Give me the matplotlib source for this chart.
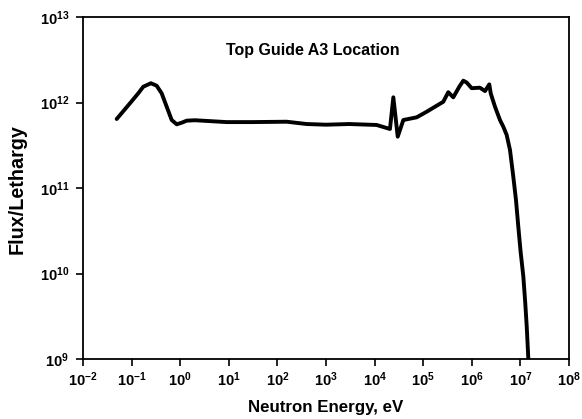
import matplotlib
matplotlib.use("Agg")
import matplotlib.pyplot as plt
from matplotlib.ticker import FixedLocator, FixedFormatter, NullLocator

plt.rcParams['font.family'] = ['Liberation Sans', 'DejaVu Sans']
plt.rcParams['font.weight'] = 'bold'
plt.rcParams['mathtext.fontset'] = 'custom'
plt.rcParams['mathtext.rm'] = 'Liberation Sans:bold'
plt.rcParams['mathtext.bf'] = 'Liberation Sans:bold'
plt.rcParams['mathtext.it'] = 'Liberation Sans:bold'

# Data
energy_eV = [0.0493, 0.0927, 0.137, 0.174, 0.25, 0.328, 0.416, 0.527, 0.668, 0.848,
             1.07, 1.36, 2.0, 9.06, 30, 155, 401, 1.0e3, 3.0e3,
             1.1e4, 2.07e4, 2.43e4, 2.99e4, 3.9e4, 7.35e4, 1.18e5, 1.9e5,
             2.59e5, 3.28e5, 4.16e5, 5.53e5, 6.69e5, 7.86e5, 9.95e5, 1.47e6,
             1.87e6, 2.29e6, 2.45e6, 3.0e6, 3.8e6, 4.45e6, 5.22e6, 6.11e6, 7.14e6,
             8.11e6, 9.06e6, 1.01e7, 1.15e7, 1.26e7, 1.35e7, 1.47e7]
flux_per_lethargy = [6.41e11, 9.8e11, 1.28e12, 1.53e12, 1.68e12, 1.57e12, 1.28e12,
                     8.93e11, 6.24e11, 5.56e11, 5.8e11, 6.13e11, 6.2e11, 5.9e11,
                     5.9e11, 5.96e11, 5.6e11, 5.5e11, 5.6e11,
                     5.46e11, 4.9e11, 1.15e12, 3.98e11,
                     6.24e11, 6.71e11, 7.8e11, 9.18e11, 1.02e12, 1.32e12, 1.15e12,
                     1.53e12, 1.80e12, 1.71e12, 1.47e12, 1.49e12, 1.36e12, 1.63e12,
                     1.28e12, 8.93e11, 6.24e11, 5.21e11, 4.17e11, 2.78e11, 1.36e11,
                     7.24e10, 3.52e10, 1.8e10, 9.18e9, 4.48e9, 2.39e9, 9.0e8]

x_exponents = [-2, -1, 0, 1, 2, 3, 4, 5, 6, 7, 8]
y_exponents = [9, 10, 11, 12, 13]
title_text = "Top Guide A3 Location"
x_label = "Neutron Energy, eV"
y_label = "Flux/Lethargy"

fig = plt.figure(figsize=(5.82, 4.19), dpi=100)
ax = fig.add_axes([83/582, 1 - 359/419, (569-83)/582, (359-17)/419])
ax.plot(energy_eV, flux_per_lethargy, color='black', lw=2.8, solid_joinstyle='round',
        solid_capstyle='round')
ax.set_xscale('log')
ax.set_yscale('log')
ax.set_xlim(1e-2, 1e8)
ax.set_ylim(1e9, 1e13)

ax.xaxis.set_major_locator(FixedLocator([10.0**e for e in x_exponents]))
ax.xaxis.set_major_formatter(FixedFormatter([r'$\mathbf{10^{%d}}$' % e for e in x_exponents]))
ax.yaxis.set_major_locator(FixedLocator([10.0**e for e in y_exponents]))
ax.yaxis.set_major_formatter(FixedFormatter([r'$\mathbf{10^{%d}}$' % e for e in y_exponents]))
ax.xaxis.set_minor_locator(NullLocator())
ax.yaxis.set_minor_locator(NullLocator())
ax.tick_params(axis='both', which='major', direction='out', length=5, width=1.2,
               labelsize=10.5)
ax.tick_params(axis='x', pad=3)
ax.tick_params(axis='y', pad=5)
for s in ax.spines.values():
    s.set_linewidth(1.3)

fig.text(326/582, 1 - 412/419, x_label, ha='center', va='baseline',
         fontsize=12.2, fontweight='bold')
fig.text(17/582, 1 - 189/419, y_label, ha='center', va='center', rotation=90,
         fontsize=14.2, fontweight='bold')
ax.text(313/582, 1 - 50/419, title_text, transform=fig.transFigure, ha='center',
        va='center', fontsize=11.5, fontweight='bold')

fig.savefig('out.png', dpi=100)
